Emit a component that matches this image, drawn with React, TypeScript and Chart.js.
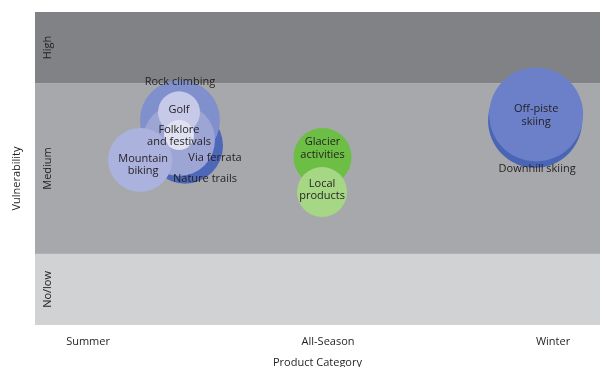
import React, { useEffect, useRef } from "react";
import { Chart, registerables } from "chart.js";

Chart.register(...registerables);

// Category axis (Product Category)
const categoryLabels = ["Summer", "All-Season", "Winter"];
const categoryPositions = [0, 1, 1.9375];

// Vulnerability bands
const bandLabels = ["No/low", "Medium", "High"];
const bandFrom = [0, 1, 3.4];
const bandTo = [1, 3.4, 4.4];
const bandColors = ["#d1d2d4", "#a7a8ab", "#818285"];

// Bubbles (back to front)
const productNames = [
  "Nature trails",
  "Rock climbing",
  "Via ferrata",
  "Golf",
  "Folklore\nand festivals",
  "Mountain\nbiking",
  "Downhill skiing",
  "Off-piste\nskiing",
  "Glacier\nactivities",
  "Local\nproducts",
];
const productCategory = [0.404, 0.383, 0.379, 0.379, 0.379, 0.217, 1.8625, 1.867, 0.977, 0.975];
const productVulnerability = [2.52, 2.88, 2.6, 2.99, 2.67, 2.32, 2.87, 2.96, 2.36, 1.87];
const productSize = [38, 40, 36, 21, 15, 32, 47, 47, 29, 25];

// styles
const bubbleColors = [
  "#4d68b9",
  "#8090cc",
  "#9da5d5",
  "#c6c9e8",
  "#e0e2f2",
  "#abb2de",
  "#4a65b5",
  "#6c80c9",
  "#6dbe45",
  "#a6d785",
];
const labelOffsets: [number, number][] = [
  [20, 33],
  [0, -38],
  [36, 18],
  [0, -2],
  [0, 1],
  [3, 5],
  [2, 48],
  [0, 1],
  [0, -9],
  [0, -2],
];

const FONT = "'Open Sans', 'Noto Sans', sans-serif";
const TEXT = "#231f20";

const bandsPlugin = {
  id: "bands",
  beforeDatasetsDraw(chart: any) {
    const { ctx, chartArea } = chart;
    const y = chart.scales.y;
    ctx.save();
    for (let i = 0; i < bandLabels.length; i++) {
      const top = y.getPixelForValue(bandTo[i]);
      const bottom = y.getPixelForValue(bandFrom[i]);
      ctx.fillStyle = bandColors[i];
      ctx.fillRect(chartArea.left, top, chartArea.right - chartArea.left, bottom - top);
      ctx.save();
      ctx.translate(chartArea.left + 13, (top + bottom) / 2);
      ctx.rotate(-Math.PI / 2);
      ctx.fillStyle = TEXT;
      ctx.font = `11px ${FONT}`;
      ctx.textAlign = "center";
      ctx.textBaseline = "middle";
      ctx.fillText(bandLabels[i], 0, 0);
      ctx.restore();
    }
    // y-axis title
    ctx.save();
    ctx.translate(17, (chartArea.top + chartArea.bottom) / 2 + 10);
    ctx.rotate(-Math.PI / 2);
    ctx.fillStyle = TEXT;
    ctx.font = `11px ${FONT}`;
    ctx.textAlign = "center";
    ctx.textBaseline = "middle";
    ctx.fillText("Vulnerability", 0, 0);
    ctx.restore();
    ctx.restore();
  },
  afterDatasetsDraw(chart: any) {
    const { ctx } = chart;
    const meta = chart.getDatasetMeta(0);
    ctx.save();
    ctx.fillStyle = TEXT;
    ctx.font = `11px ${FONT}`;
    ctx.textAlign = "center";
    ctx.textBaseline = "middle";
    meta.data.forEach((el: any, i: number) => {
      const lines = productNames[i].split("\n");
      const lh = 12.5;
      const cx = el.x + labelOffsets[i][0];
      const cy = el.y + labelOffsets[i][1];
      lines.forEach((line, j) => {
        ctx.fillText(line, cx, cy + (j - (lines.length - 1) / 2) * lh);
      });
    });
    ctx.restore();
  },
};

export default function App() {
  const ref = useRef<HTMLCanvasElement>(null);
  useEffect(() => {
    document.body.style.margin = "0";
    const chart = new Chart(ref.current!, {
      type: "bubble",
      data: {
        datasets: [
          {
            data: productNames.map((_, i) => ({
              x: productCategory[i],
              y: productVulnerability[i],
              r: productSize[i],
            })),
            backgroundColor: bubbleColors,
            borderWidth: 0,
            hoverBorderWidth: 0,
          },
        ],
      },
      plugins: [bandsPlugin],
      options: {
        animation: false,
        responsive: false,
        layout: { autoPadding: false, padding: { left: 35, top: 12, right: 0, bottom: 0 } },
        plugins: { legend: { display: false }, tooltip: { enabled: false } },
        scales: {
          x: {
            type: "linear",
            min: -0.221,
            max: 2.133,
            grid: { display: false, drawTicks: false },
            border: { display: false },
            afterBuildTicks: (scale: any) => {
              scale.ticks = categoryPositions.map((v) => ({ value: v }));
            },
            afterFit: (scale: any) => {
              scale.height = 42;
            },
            ticks: {
              padding: 10,
              autoSkip: false,
              maxRotation: 0,
              color: TEXT,
              font: { family: FONT, size: 11 },
              callback: (_v: any, i: number) => categoryLabels[i],
            },
            title: {
              display: true,
              text: "Product Category",
              color: TEXT,
              font: { family: FONT, size: 11 },
              padding: { top: 0, bottom: -2.5 },
            },
          },
          y: {
            type: "linear",
            display: false,
            min: 0,
            max: 4.4,
          },
        },
      },
    });
    return () => chart.destroy();
  }, []);
  return (
    <div style={{ width: 600, height: 367 }}>
      <canvas ref={ref} width={600} height={367} />
    </div>
  );
}
